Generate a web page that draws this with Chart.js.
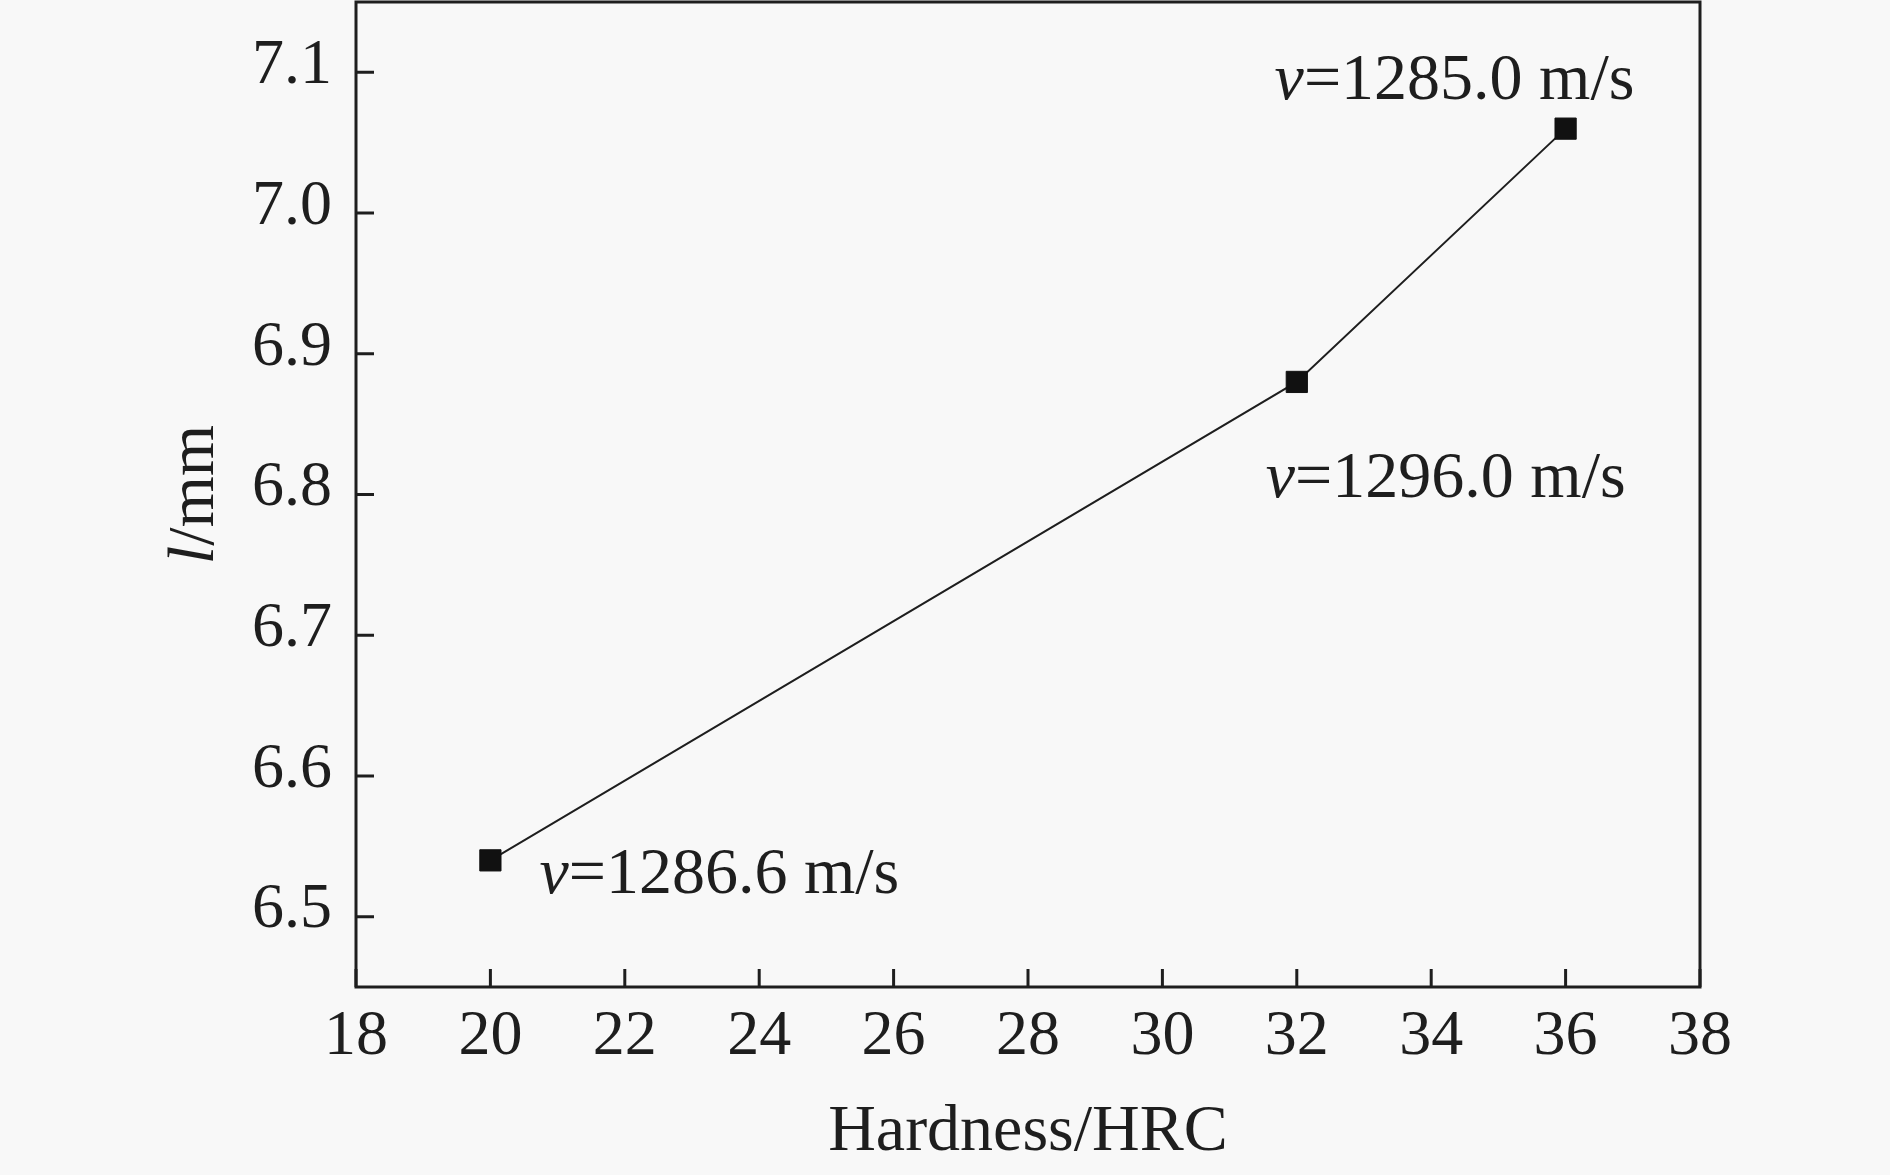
<!DOCTYPE html>
<html lang="en">
<head>
    <meta charset="UTF-8">
    <title>Hardness vs l</title>
    <style>
        html, body { margin: 0; padding: 0; background: #f8f8f8; }
        .wrap { width: 1890px; height: 1175px; }
    </style>
</head>
<body>
    <div class="wrap">
        <canvas id="chart" width="1890" height="1175"></canvas>
    </div>

    <script src="https://cdn.jsdelivr.net/npm/chart.js"></script>
    <script>
        // data
        const hardness = [20, 32, 36];
        const lengthMm = [6.54, 6.88, 7.06];
        const speedLabels = ['=1286.6 m/s', '=1296.0 m/s', '=1285.0 m/s'];
        const xTicks = [18, 20, 22, 24, 26, 28, 30, 32, 34, 36, 38];
        const yTicks = [6.5, 6.6, 6.7, 6.8, 6.9, 7.0, 7.1];

        const FONT = '"Liberation Serif", "Times New Roman", serif';
        const INK = '#1e1e1e';

        // background, frame and inward ticks
        const framePlugin = {
            id: 'frame',
            beforeDraw(chart) {
                const ctx = chart.ctx;
                ctx.save();
                ctx.fillStyle = '#f8f8f8';
                ctx.fillRect(0, 0, chart.width, chart.height);
                ctx.restore();
            },
            afterDraw(chart) {
                const { ctx, chartArea: a, scales } = chart;
                ctx.save();
                ctx.strokeStyle = INK;
                ctx.lineWidth = 3;
                ctx.strokeRect(a.left, a.top, a.right - a.left, a.bottom - a.top);

                ctx.beginPath();
                scales.x.ticks.forEach(t => {
                    const px = scales.x.getPixelForValue(t.value);
                    ctx.moveTo(px, a.bottom);
                    ctx.lineTo(px, a.bottom - 18);
                });
                scales.y.ticks.forEach(t => {
                    const py = scales.y.getPixelForValue(t.value);
                    ctx.moveTo(a.left, py);
                    ctx.lineTo(a.left + 18, py);
                });
                ctx.stroke();

                // y title: italic l + /mm
                const cy = (a.top + a.bottom) / 2;
                ctx.translate(213, cy);
                ctx.rotate(-Math.PI / 2);
                ctx.fillStyle = INK;
                ctx.textBaseline = 'alphabetic';
                ctx.font = 'italic 66px ' + FONT;
                const w1 = ctx.measureText('l').width;
                ctx.font = '66px ' + FONT;
                const w2 = ctx.measureText('/mm').width;
                const x0 = -(w1 + w2) / 2;
                ctx.font = 'italic 66px ' + FONT;
                ctx.fillText('l', x0, 0);
                ctx.font = '66px ' + FONT;
                ctx.fillText('/mm', x0 + w1, 0);
                ctx.restore();
            }
        };

        // speed labels next to each point
        const labelPlugin = {
            id: 'speedLabels',
            afterDatasetsDraw(chart) {
                const { ctx, scales } = chart;
                const offsets = [[49, 33], [-31, 115], [-291, -30]];
                ctx.save();
                ctx.fillStyle = INK;
                ctx.textBaseline = 'alphabetic';
                hardness.forEach((h, i) => {
                    const px = scales.x.getPixelForValue(h) + offsets[i][0];
                    const py = scales.y.getPixelForValue(lengthMm[i]) + offsets[i][1];
                    ctx.font = 'italic 66px ' + FONT;
                    ctx.fillText('v', px, py);
                    const w = ctx.measureText('v').width;
                    ctx.font = '66px ' + FONT;
                    ctx.fillText(speedLabels[i], px + w, py);
                });
                ctx.restore();
            }
        };

        new Chart(document.getElementById('chart').getContext('2d'), {
            type: 'scatter',
            data: {
                datasets: [{
                    data: hardness.map((h, i) => ({ x: h, y: lengthMm[i] })),
                    showLine: true,
                    borderColor: INK,
                    borderWidth: 2,
                    pointStyle: 'rect',
                    pointRadius: 15,
                    pointBackgroundColor: '#111',
                    pointBorderColor: '#111',
                    pointBorderWidth: 1
                }]
            },
            options: {
                responsive: false,
                animation: false,
                layout: { autoPadding: false, padding: { left: 0, top: 2, right: 190, bottom: 0 } },
                plugins: {
                    legend: { display: false },
                    tooltip: { enabled: false }
                },
                scales: {
                    x: {
                        type: 'linear',
                        min: 18,
                        max: 38,
                        afterBuildTicks: s => { s.ticks = xTicks.map(v => ({ value: v })); },
                        afterFit: s => { s.height = 188; s.paddingLeft = 0; s.paddingRight = 0; },
                        grid: { display: false, drawTicks: false },
                        border: { display: false },
                        ticks: {
                            color: INK,
                            padding: 12,
                            maxRotation: 0,
                            font: { family: FONT, size: 64 }
                        },
                        title: {
                            display: true,
                            text: 'Hardness/HRC',
                            color: INK,
                            font: { family: FONT, size: 66 },
                            padding: { top: 0, bottom: 3 }
                        }
                    },
                    y: {
                        min: 6.45,
                        max: 7.15,
                        afterBuildTicks: s => { s.ticks = yTicks.map(v => ({ value: v })); },
                        afterFit: s => { s.width = 356; s.paddingTop = 0; s.paddingBottom = 0; },
                        grid: { display: false, drawTicks: false },
                        border: { display: false },
                        ticks: {
                            color: INK,
                            padding: 24,
                            labelOffset: -6,
                            font: { family: FONT, size: 64 },
                            callback: v => Number(v).toFixed(1)
                        }
                    }
                }
            },
            plugins: [framePlugin, labelPlugin]
        });
    </script>
</body>
</html>
